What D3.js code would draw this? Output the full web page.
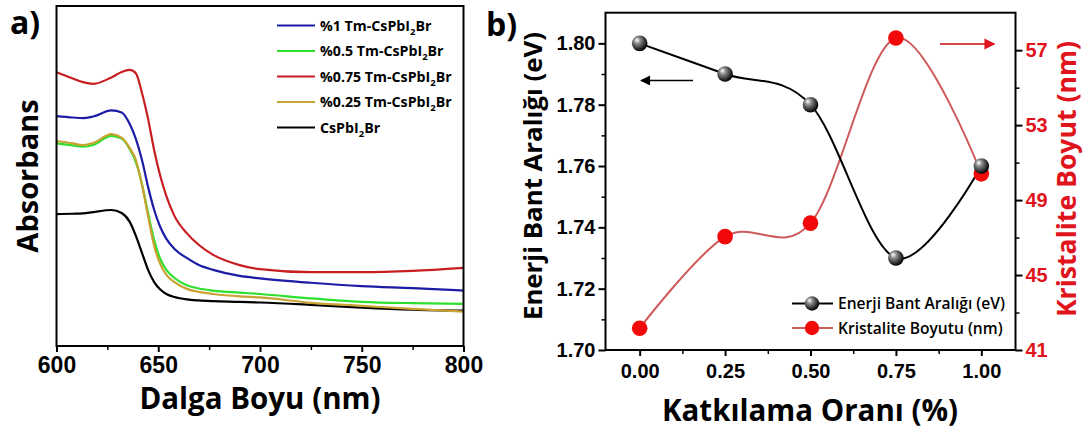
<!DOCTYPE html>
<html>
<head>
<meta charset="utf-8">
<script src="https://cdn.jsdelivr.net/npm/d3@7"></script>
<style>
  html, body { margin: 0; padding: 0; background: #fff; }
  svg { display: block; font-family: "Open Sans", "DejaVu Sans", sans-serif; }
</style>
</head>
<body>
<svg id="chart" width="1092" height="435"></svg>
<script>
// ---------- Panel a) data : absorbance spectra (a.u.) ----------
const wavelengths = [600, 608, 613, 618, 627, 632, 636, 639, 642, 645, 648, 651, 654, 658, 664, 670, 677, 690, 700, 725, 750, 775, 800];
const absBlack = [0.388, 0.389, 0.390, 0.394, 0.400, 0.391, 0.365, 0.324, 0.274, 0.224, 0.188, 0.166, 0.153, 0.144, 0.137, 0.134, 0.132, 0.130, 0.128, 0.121, 0.113, 0.107, 0.104];
const absGreen = [0.596, 0.590, 0.586, 0.591, 0.618, 0.610, 0.579, 0.541, 0.476, 0.391, 0.312, 0.256, 0.224, 0.200, 0.179, 0.169, 0.163, 0.157, 0.153, 0.140, 0.130, 0.126, 0.124];
const absGold  = [0.603, 0.596, 0.591, 0.597, 0.623, 0.613, 0.582, 0.547, 0.474, 0.382, 0.294, 0.241, 0.209, 0.188, 0.168, 0.159, 0.153, 0.146, 0.143, 0.127, 0.118, 0.109, 0.101];
const absBlue  = [0.676, 0.672, 0.670, 0.675, 0.693, 0.687, 0.653, 0.609, 0.547, 0.468, 0.400, 0.350, 0.315, 0.285, 0.259, 0.238, 0.224, 0.206, 0.199, 0.186, 0.176, 0.170, 0.163];
const absRed   = [0.805, 0.787, 0.776, 0.771, 0.790, 0.806, 0.812, 0.802, 0.744, 0.668, 0.576, 0.500, 0.441, 0.382, 0.332, 0.297, 0.268, 0.238, 0.226, 0.217, 0.217, 0.221, 0.230];
const waveTicks = [600, 650, 700, 750, 800];
const waveMinorTicks = [625, 675, 725, 775];
// legend order: label main part, sub, tail
const legendNames = [["%1 Tm-CsPbI", "2", "Br"], ["%0.5 Tm-CsPbI", "2", "Br"], ["%0.75 Tm-CsPbI", "2", "Br"], ["%0.25 Tm-CsPbI", "2", "Br"], ["CsPbI", "2", "Br"]];
const legendColors = ["#1c1ca6", "#2ee02e", "#c81e22", "#c9a232", "#000000"];

// ---------- Panel b) data ----------
const dopingRatio = [0.00, 0.25, 0.50, 0.75, 1.00];
const bandGap = [1.80, 1.79, 1.78, 1.73, 1.76];
const crystalSize = [42.16, 47.05, 47.77, 57.65, 50.40];
const ratioTicks = [0.00, 0.25, 0.50, 0.75, 1.00];
const ratioMinorTicks = [0.125, 0.375, 0.625, 0.875];
const gapTicks = [1.70, 1.72, 1.74, 1.76, 1.78, 1.80];
const gapMinorTicks = [1.71, 1.73, 1.75, 1.77, 1.79];
const sizeTicks = [41, 45, 49, 53, 57];
const sizeMinorTicks = [43, 47, 51, 55];

const svg = d3.select("#chart");
const RED = "#e0141c";

// gradient for sphere markers
const defs = svg.append("defs");
const grad = defs.append("radialGradient").attr("id", "sphere")
  .attr("cx", "40%").attr("cy", "38%").attr("r", "60%").attr("fx", "32%").attr("fy", "28%");
grad.append("stop").attr("offset", "0%").attr("stop-color", "#ffffff");
grad.append("stop").attr("offset", "35%").attr("stop-color", "#8a8a8a");
grad.append("stop").attr("offset", "100%").attr("stop-color", "#050505");

// ================= Panel a =================
const ax = d3.scaleLinear().domain([600, 800]).range([56.5, 463.5]);
const ay = d3.scaleLinear().domain([0, 1]).range([346, 6]);
const ga = svg.append("g");

const seriesA = [
  {v: absBlack, c: legendColors[4]},
  {v: absGreen, c: legendColors[1]},
  {v: absGold,  c: legendColors[3]},
  {v: absBlue,  c: legendColors[0]},
  {v: absRed,   c: legendColors[2]}
];
const lineA = d3.line().x((d, i) => ax(wavelengths[i])).y(d => ay(d)).curve(d3.curveMonotoneX);
ga.selectAll("path.spec").data(seriesA).join("path").attr("class", "spec")
  .attr("d", s => lineA(s.v)).attr("fill", "none").attr("stroke", s => s.c).attr("stroke-width", 2.2);

// frame
ga.append("rect").attr("x", ax(600)).attr("y", ay(1)).attr("width", ax(800) - ax(600)).attr("height", ay(0) - ay(1))
  .attr("fill", "none").attr("stroke", "#000").attr("stroke-width", 2);

const axA = ga.append("g").attr("transform", `translate(0,${ay(0)})`)
  .call(d3.axisBottom(ax).tickValues(waveTicks).tickSize(6).tickSizeOuter(0).tickPadding(5).tickFormat(d3.format("d")));
axA.select(".domain").remove();
axA.selectAll("line").attr("stroke-width", 2);
axA.selectAll("text").attr("font-size", 23).attr("font-weight", 700).attr("fill", "#000");
const axAm = ga.append("g").attr("transform", `translate(0,${ay(0)})`)
  .call(d3.axisBottom(ax).tickValues(waveMinorTicks).tickSize(4).tickFormat(""));
axAm.select(".domain").remove();
axAm.selectAll("line").attr("stroke-width", 1.5);

ga.append("text").attr("x", 260).attr("y", 409).attr("text-anchor", "middle")
  .attr("font-size", 29.5).attr("font-weight", 700).text("Dalga Boyu (nm)");
ga.append("text").attr("transform", "translate(38,176) rotate(-90)").attr("text-anchor", "middle")
  .attr("font-size", 29).attr("font-weight", 700).text("Absorbans");
ga.append("text").attr("x", 10).attr("y", 34).attr("font-size", 32).attr("font-weight", 700).text("a)");

// legend a
const legA = ga.append("g");
legendNames.forEach((n, i) => {
  const yy = 25.5 + i * 25.5;
  legA.append("line").attr("x1", 277).attr("x2", 315).attr("y1", yy).attr("y2", yy)
    .attr("stroke", legendColors[i]).attr("stroke-width", 2.2);
  const t = legA.append("text").attr("x", 320).attr("y", yy + 5).attr("font-size", 14.2).attr("font-weight", 700);
  t.append("tspan").text(n[0]);
  t.append("tspan").attr("font-size", 9.5).attr("dy", 4).text(n[1]);
  t.append("tspan").attr("dy", -4).text(n[2]);
});

// ================= Panel b =================
const bx = d3.scaleLinear().domain([-0.1, 1.1]).range([605.5, 1015.5]);
const byL = d3.scaleLinear().domain([1.70, 1.81]).range([350, 12.7]);
const byR = d3.scaleLinear().domain([41, 59]).range([350, 12.7]);
const gb = svg.append("g");

// curves (uniform Catmull-Rom spline, as in the original)
const spline = d3.curveCardinal.tension(0);
const lineGap = d3.line().x((d, i) => bx(dopingRatio[i])).y(d => byL(d)).curve(spline);
const lineSize = d3.line().x((d, i) => bx(dopingRatio[i])).y(d => byR(d)).curve(spline);
gb.append("path").attr("d", lineSize(crystalSize)).attr("fill", "none").attr("stroke", "#cf5a5a").attr("stroke-width", 2);
gb.append("path").attr("d", lineGap(bandGap)).attr("fill", "none").attr("stroke", "#000").attr("stroke-width", 2);

gb.selectAll("circle.size").data(crystalSize).join("circle").attr("class", "size")
  .attr("cx", (d, i) => bx(dopingRatio[i])).attr("cy", d => byR(d)).attr("r", 7.8).attr("fill", "#f20a0a");
gb.selectAll("circle.gap").data(bandGap).join("circle").attr("class", "gap")
  .attr("cx", (d, i) => bx(dopingRatio[i])).attr("cy", d => byL(d)).attr("r", 7.8).attr("fill", "url(#sphere)");

// frame
gb.append("rect").attr("x", bx(-0.1)).attr("y", byL(1.81)).attr("width", bx(1.1) - bx(-0.1)).attr("height", byL(1.70) - byL(1.81))
  .attr("fill", "none").attr("stroke", "#000").attr("stroke-width", 2);

function styleAxis(g, fs, color) {
  g.select(".domain").remove();
  g.selectAll("line").attr("stroke-width", 2).attr("stroke", "#000");
  g.selectAll("text").attr("font-size", fs).attr("font-weight", 700).attr("fill", color);
}
const bxA = gb.append("g").attr("transform", `translate(0,${byL(1.70)})`)
  .call(d3.axisBottom(bx).tickValues(ratioTicks).tickSize(6).tickPadding(8).tickFormat(d3.format(".2f")));
styleAxis(bxA, 20, "#000");
const bxAm = gb.append("g").attr("transform", `translate(0,${byL(1.70)})`)
  .call(d3.axisBottom(bx).tickValues(ratioMinorTicks).tickSize(4).tickFormat(""));
styleAxis(bxAm, 20, "#000"); bxAm.selectAll("line").attr("stroke-width", 1.5);

const byLA = gb.append("g").attr("transform", `translate(${bx(-0.1)},0)`)
  .call(d3.axisLeft(byL).tickValues(gapTicks).tickSize(7).tickPadding(3).tickFormat(d3.format(".2f")));
styleAxis(byLA, 20, "#000");
const byLAm = gb.append("g").attr("transform", `translate(${bx(-0.1)},0)`)
  .call(d3.axisLeft(byL).tickValues(gapMinorTicks).tickSize(4).tickFormat(""));
styleAxis(byLAm, 20, "#000"); byLAm.selectAll("line").attr("stroke-width", 1.5);

const byRA = gb.append("g").attr("transform", `translate(${bx(1.1)},0)`)
  .call(d3.axisRight(byR).tickValues(sizeTicks).tickSize(7).tickPadding(3).tickFormat(d3.format("d")));
styleAxis(byRA, 20, RED);
const byRAm = gb.append("g").attr("transform", `translate(${bx(1.1)},0)`)
  .call(d3.axisRight(byR).tickValues(sizeMinorTicks).tickSize(4).tickFormat(""));
styleAxis(byRAm, 20, RED); byRAm.selectAll("line").attr("stroke-width", 1.5);

gb.append("text").attr("x", 810).attr("y", 421).attr("text-anchor", "middle")
  .attr("font-size", 29.5).attr("font-weight", 700).text("Katkılama Oranı (%)");
gb.append("text").attr("transform", "translate(542,176) rotate(-90)").attr("text-anchor", "middle")
  .attr("font-size", 25.8).attr("font-weight", 700).text("Enerji Bant Aralığı (eV)");
gb.append("text").attr("transform", "translate(1076,179) rotate(-90)").attr("text-anchor", "middle")
  .attr("font-size", 26.6).attr("font-weight", 700).attr("fill", RED).text("Kristalite Boyut (nm)");
gb.append("text").attr("x", 486).attr("y", 36).attr("font-size", 32).attr("font-weight", 700).text("b)");

// arrows
defs.append("marker").attr("id", "ahBlack").attr("viewBox", "0 0 10 10").attr("refX", 9).attr("refY", 5)
  .attr("markerWidth", 11).attr("markerHeight", 10).attr("markerUnits", "userSpaceOnUse").attr("orient", "auto")
  .append("path").attr("d", "M0,0 L10,5 L0,10 z").attr("fill", "#000");
defs.append("marker").attr("id", "ahRed").attr("viewBox", "0 0 10 10").attr("refX", 9).attr("refY", 5)
  .attr("markerWidth", 11).attr("markerHeight", 12).attr("markerUnits", "userSpaceOnUse").attr("orient", "auto")
  .append("path").attr("d", "M0,0 L10,5 L0,10 z").attr("fill", RED);
gb.append("line").attr("x1", bx(0.156)).attr("x2", bx(0.004)).attr("y1", byL(1.7879)).attr("y2", byL(1.7879))
  .attr("stroke", "#000").attr("stroke-width", 1.6).attr("marker-end", "url(#ahBlack)");
gb.append("line").attr("x1", bx(0.879)).attr("x2", bx(1.038)).attr("y1", byR(57.33)).attr("y2", byR(57.33))
  .attr("stroke", "#d44848").attr("stroke-width", 2).attr("marker-end", "url(#ahRed)");

// legend b
const legB = gb.append("g");
const legBItems = [
  {label: "Enerji Bant Aralığı (eV)", line: "#000", fill: "url(#sphere)"},
  {label: "Kristalite Boyutu (nm)", line: "#cf5a5a", fill: "#f20a0a"}
];
legBItems.forEach((it, i) => {
  const yy = 303.5 + i * 24.5;
  legB.append("line").attr("x1", 792).attr("x2", 833).attr("y1", yy).attr("y2", yy).attr("stroke", it.line).attr("stroke-width", 2);
  legB.append("circle").attr("cx", 812).attr("cy", yy).attr("r", 7.2).attr("fill", it.fill);
  legB.append("text").attr("x", 838).attr("y", yy + 5.5).attr("font-size", 15.6).attr("font-weight", 600).text(it.label);
});
</script>
</body>
</html>
